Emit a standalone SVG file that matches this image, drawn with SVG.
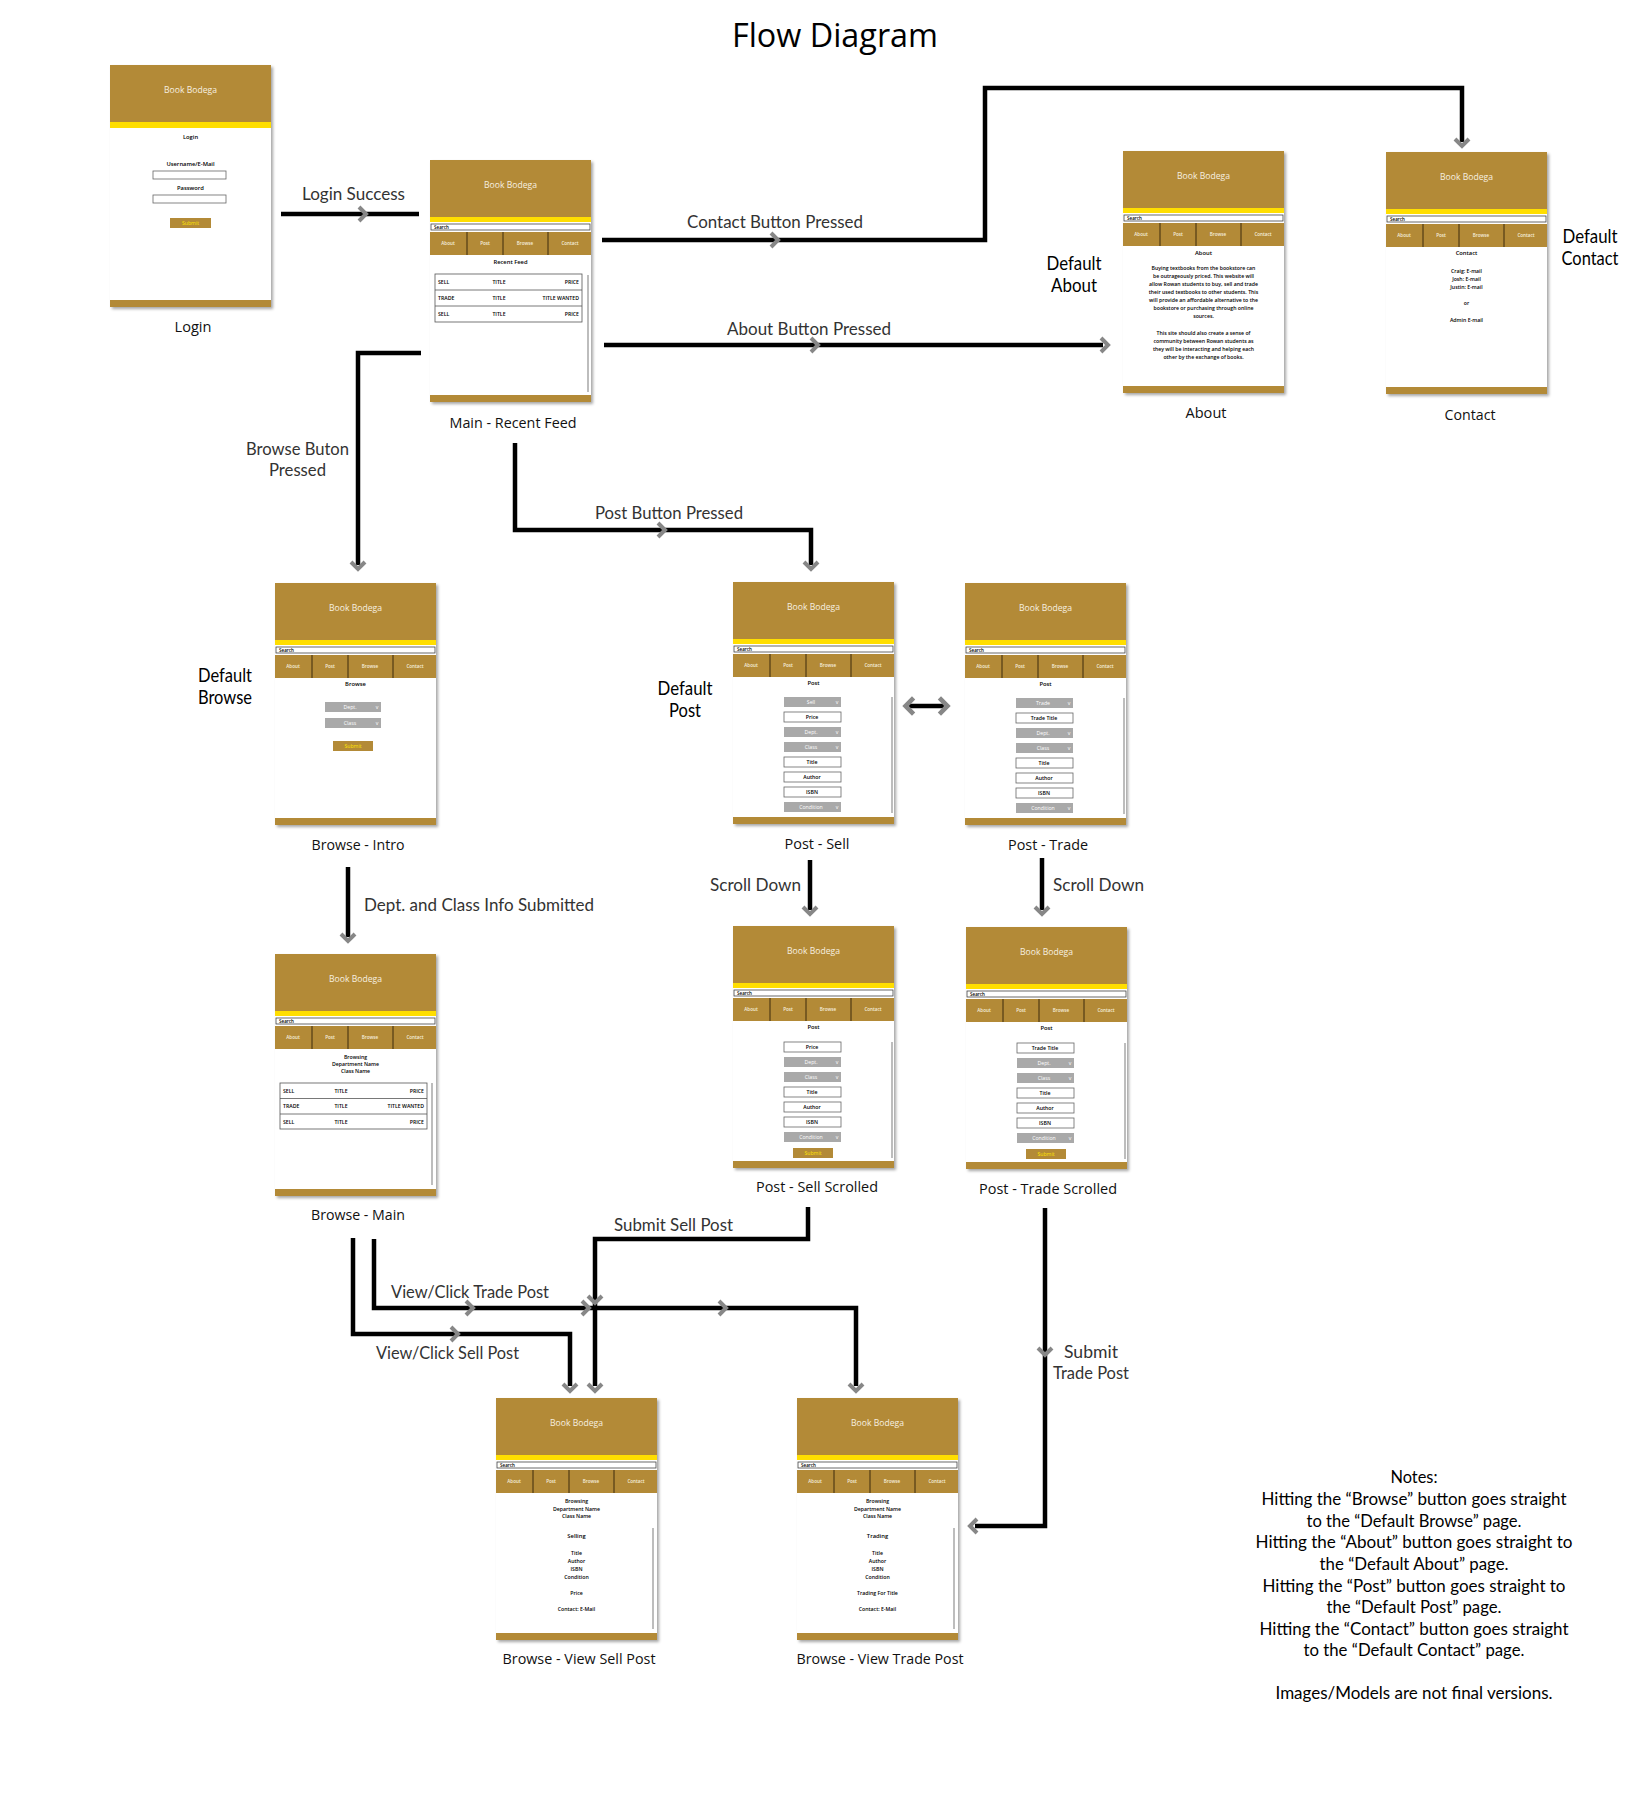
<svg xmlns="http://www.w3.org/2000/svg" xmlns:xlink="http://www.w3.org/1999/xlink" width="1641" height="1800" viewBox="0 0 1641 1800">
<defs>
<filter id="sh" x="-10%" y="-10%" width="130%" height="130%">
<feDropShadow dx="2" dy="2" stdDeviation="1.6" flood-color="#000" flood-opacity="0.35"/>
</filter>
<path id="cv" d="M-4,-7 L3,0 L-4,7" fill="none" stroke="#878787" stroke-width="4"/>
<style>
.body{fill:#fff;filter:url(#sh)}
.hd{fill:#B38A37}
.yl{fill:#FFDE00}
.sb{fill:#fff;stroke:#444;stroke-width:0.8}
.dv{stroke:#3d2a0c;stroke-width:1;fill:none}
.tbb{font-family:"Open Sans","Noto Sans",sans-serif;font-size:8.6px;fill:#f7f0e0;text-anchor:middle}
.tn{font-family:"Open Sans",sans-serif;font-size:4.6px;font-weight:600;fill:#f6efdf;text-anchor:middle}
.ts{font-family:"Open Sans",sans-serif;font-size:4.6px;font-weight:600;fill:#000}
.tc{font-family:"Open Sans",sans-serif;font-size:5.8px;font-weight:600;fill:#000;text-anchor:middle}
.tp{font-family:"Open Sans",sans-serif;font-size:5.2px;font-weight:600;fill:#000;text-anchor:middle}
.tl{font-family:"Open Sans",sans-serif;font-size:5.2px;font-weight:600;fill:#000}
.tr{font-family:"Open Sans",sans-serif;font-size:5.2px;font-weight:600;fill:#000;text-anchor:end}
.dd{fill:#A9A9A9}
.in{fill:#fff;stroke:#666;stroke-width:0.8}
.tdd{font-family:"Open Sans",sans-serif;font-size:5.2px;fill:#fff;text-anchor:middle}
.tbn{font-family:"Open Sans",sans-serif;font-size:5.2px;fill:#FFE400;text-anchor:middle}
.scr{stroke:#bdbdbd;stroke-width:2}
.tbl{fill:#fff;stroke:#555;stroke-width:0.8}
.rl{stroke:#555;stroke-width:0.8}
.ln{fill:none;stroke:#000;stroke-width:4.5;stroke-linejoin:miter}
.lbl{font-family:Lato,"Open Sans",sans-serif;font-size:18px;fill:#333}
.nl{font-family:"Open Sans","Noto Sans",sans-serif;font-size:15px;fill:#111;text-anchor:middle}
.dl{font-family:Lato,"Open Sans",sans-serif;font-size:19px;fill:#000;text-anchor:middle}
.nt{font-family:Lato,"Open Sans",sans-serif;font-size:18px;fill:#000;text-anchor:middle}
.ttl{font-family:"Open Sans","Noto Sans",sans-serif;font-size:32px;fill:#000;text-anchor:middle}
</style>
</defs>
<rect width="1641" height="1800" fill="#fff"/>
<text class="ttl" x="835" y="47" textLength="206" lengthAdjust="spacingAndGlyphs">Flow Diagram</text>

<!-- Login -->
<g id="login" transform="translate(110,65)">
<rect class="body" width="161" height="242"/>
<rect class="hd" width="161" height="57"/>
<text class="tbb" x="80.5" y="28">Book Bodega</text>
<rect class="yl" y="57" width="161" height="6"/>
<text class="tc" x="80.5" y="74">Login</text>
<text class="tc" x="80.5" y="101">Username/E-Mail</text>
<rect class="in" x="43" y="106" width="73" height="8"/>
<text class="tc" x="80.5" y="125">Password</text>
<rect class="in" x="43" y="130" width="73" height="8"/>
<rect class="hd" x="60" y="153" width="41" height="10"/>
<text class="tbn" x="80.5" y="160">Submit</text>
<rect class="hd" y="235" width="161" height="7"/>
</g>
<text class="nl" x="193" y="332" textLength="37" lengthAdjust="spacingAndGlyphs">Login</text>

<!-- Main - Recent Feed -->
<g id="main" transform="translate(430,160)">
<rect class="body" width="161" height="242"/>
<rect class="hd" width="161" height="57"/>
<text class="tbb" x="80.5" y="28">Book Bodega</text>
<rect class="yl" y="57" width="161" height="5"/>
<rect class="sb" x="1" y="64" width="159" height="6"/>
<text class="ts" x="4" y="69">Search</text>
<rect class="hd" y="72" width="161" height="23"/>
<path class="dv" d="M37,72V95M73,72V95M118,72V95"/>
<text class="tn" x="18" y="85">About</text>
<text class="tn" x="55" y="85">Post</text>
<text class="tn" x="95" y="85">Browse</text>
<text class="tn" x="140" y="85">Contact</text>
<text class="tc" x="80.5" y="104">Recent Feed</text>
<rect class="tbl" x="5" y="114" width="147" height="48"/>
<path class="rl" d="M5,130H152M5,146H152"/>
<text class="tl" x="8" y="124">SELL</text><text class="tp" x="69" y="124">TITLE</text><text class="tr" x="149" y="124">PRICE</text>
<text class="tl" x="8" y="140">TRADE</text><text class="tp" x="69" y="140">TITLE</text><text class="tr" x="149" y="140">TITLE WANTED</text>
<text class="tl" x="8" y="156">SELL</text><text class="tp" x="69" y="156">TITLE</text><text class="tr" x="149" y="156">PRICE</text>
<line class="scr" x1="158" y1="115" x2="158" y2="232"/>
<rect class="hd" y="235" width="161" height="7"/>
</g>
<text class="nl" x="513" y="428" textLength="127" lengthAdjust="spacingAndGlyphs">Main - Recent Feed</text>

<!-- About -->
<g id="about" transform="translate(1123,151)">
<rect class="body" width="161" height="242"/>
<rect class="hd" width="161" height="57"/>
<text class="tbb" x="80.5" y="28">Book Bodega</text>
<rect class="yl" y="57" width="161" height="5"/>
<rect class="sb" x="1" y="64" width="159" height="6"/>
<text class="ts" x="4" y="69">Search</text>
<rect class="hd" y="72" width="161" height="23"/>
<path class="dv" d="M37,72V95M73,72V95M118,72V95"/>
<text class="tn" x="18" y="85">About</text>
<text class="tn" x="55" y="85">Post</text>
<text class="tn" x="95" y="85">Browse</text>
<text class="tn" x="140" y="85">Contact</text>
<text class="tc" x="80.5" y="104">About</text>
<text class="tp" x="80.5" y="119">Buying textbooks from the bookstore can</text>
<text class="tp" x="80.5" y="127">be outrageously priced. This website will</text>
<text class="tp" x="80.5" y="135">allow Rowan students to buy, sell and trade</text>
<text class="tp" x="80.5" y="143">their used textbooks to other students. This</text>
<text class="tp" x="80.5" y="151">will provide an affordable alternative to the</text>
<text class="tp" x="80.5" y="159">bookstore or purchasing through online</text>
<text class="tp" x="80.5" y="167">sources.</text>
<text class="tp" x="80.5" y="184">This site should also create a sense of</text>
<text class="tp" x="80.5" y="192">community between Rowan students as</text>
<text class="tp" x="80.5" y="200">they will be interacting and helping each</text>
<text class="tp" x="80.5" y="208">other by the exchange of books.</text>
<rect class="hd" y="235" width="161" height="7"/>
</g>
<text class="nl" x="1206" y="418" textLength="41" lengthAdjust="spacingAndGlyphs">About</text>
<text class="dl" x="1074" y="270" textLength="55" lengthAdjust="spacingAndGlyphs">Default</text>
<text class="dl" x="1074" y="292" textLength="46" lengthAdjust="spacingAndGlyphs">About</text>

<!-- Contact -->
<g id="contact" transform="translate(1386,152)">
<rect class="body" width="161" height="242"/>
<rect class="hd" width="161" height="57"/>
<text class="tbb" x="80.5" y="28">Book Bodega</text>
<rect class="yl" y="57" width="161" height="5"/>
<rect class="sb" x="1" y="64" width="159" height="6"/>
<text class="ts" x="4" y="69">Search</text>
<rect class="hd" y="72" width="161" height="23"/>
<path class="dv" d="M37,72V95M73,72V95M118,72V95"/>
<text class="tn" x="18" y="85">About</text>
<text class="tn" x="55" y="85">Post</text>
<text class="tn" x="95" y="85">Browse</text>
<text class="tn" x="140" y="85">Contact</text>
<text class="tc" x="80.5" y="103">Contact</text>
<text class="tp" x="80.5" y="121">Craig: E-mail</text>
<text class="tp" x="80.5" y="129">Josh: E-mail</text>
<text class="tp" x="80.5" y="137">Justin: E-mail</text>
<text class="tp" x="80.5" y="153">or</text>
<text class="tp" x="80.5" y="170">Admin E-mail</text>
<rect class="hd" y="235" width="161" height="7"/>
</g>
<text class="nl" x="1470" y="420" textLength="51" lengthAdjust="spacingAndGlyphs">Contact</text>
<text class="dl" x="1590" y="243" textLength="55" lengthAdjust="spacingAndGlyphs">Default</text>
<text class="dl" x="1590" y="265" textLength="57" lengthAdjust="spacingAndGlyphs">Contact</text>

<!-- Browse - Intro -->
<g id="browse-intro" transform="translate(275,583)">
<rect class="body" width="161" height="242"/>
<rect class="hd" width="161" height="57"/>
<text class="tbb" x="80.5" y="28">Book Bodega</text>
<rect class="yl" y="57" width="161" height="5"/>
<rect class="sb" x="1" y="64" width="159" height="6"/>
<text class="ts" x="4" y="69">Search</text>
<rect class="hd" y="72" width="161" height="23"/>
<path class="dv" d="M37,72V95M73,72V95M118,72V95"/>
<text class="tn" x="18" y="85">About</text>
<text class="tn" x="55" y="85">Post</text>
<text class="tn" x="95" y="85">Browse</text>
<text class="tn" x="140" y="85">Contact</text>
<text class="tc" x="80.5" y="103">Browse</text>
<rect class="dd" x="50" y="119" width="56" height="10"/>
<text class="tdd" x="75" y="126">Dept.</text><text class="tdd" x="102" y="126">v</text>
<rect class="dd" x="50" y="135" width="56" height="10"/>
<text class="tdd" x="75" y="142">Class</text><text class="tdd" x="102" y="142">v</text>
<rect class="hd" x="58" y="158" width="40" height="10"/>
<text class="tbn" x="78" y="165">Submit</text>
<rect class="hd" y="235" width="161" height="7"/>
</g>
<text class="nl" x="358" y="850" textLength="93" lengthAdjust="spacingAndGlyphs">Browse - Intro</text>
<text class="dl" x="225" y="682" textLength="54" lengthAdjust="spacingAndGlyphs">Default</text>
<text class="dl" x="225" y="704" textLength="54" lengthAdjust="spacingAndGlyphs">Browse</text>

<!-- Post - Sell -->
<g id="post-sell" transform="translate(733,582)">
<rect class="body" width="161" height="242"/>
<rect class="hd" width="161" height="57"/>
<text class="tbb" x="80.5" y="28">Book Bodega</text>
<rect class="yl" y="57" width="161" height="5"/>
<rect class="sb" x="1" y="64" width="159" height="6"/>
<text class="ts" x="4" y="69">Search</text>
<rect class="hd" y="72" width="161" height="23"/>
<path class="dv" d="M37,72V95M73,72V95M118,72V95"/>
<text class="tn" x="18" y="85">About</text>
<text class="tn" x="55" y="85">Post</text>
<text class="tn" x="95" y="85">Browse</text>
<text class="tn" x="140" y="85">Contact</text>
<text class="tc" x="80.5" y="103">Post</text>
<rect class="dd" x="51" y="115" width="57" height="10"/><text class="tdd" x="78" y="122">Sell</text><text class="tdd" x="104" y="122">v</text>
<rect class="in" x="51" y="130" width="57" height="10"/><text class="tp" x="79" y="137">Price</text>
<rect class="dd" x="51" y="145" width="57" height="10"/><text class="tdd" x="78" y="152">Dept.</text><text class="tdd" x="104" y="152">v</text>
<rect class="dd" x="51" y="160" width="57" height="10"/><text class="tdd" x="78" y="167">Class</text><text class="tdd" x="104" y="167">v</text>
<rect class="in" x="51" y="175" width="57" height="10"/><text class="tp" x="79" y="182">Title</text>
<rect class="in" x="51" y="190" width="57" height="10"/><text class="tp" x="79" y="197">Author</text>
<rect class="in" x="51" y="205" width="57" height="10"/><text class="tp" x="79" y="212">ISBN</text>
<rect class="dd" x="51" y="220" width="57" height="10"/><text class="tdd" x="78" y="227">Condition</text><text class="tdd" x="104" y="227">v</text>
<line class="scr" x1="159" y1="115" x2="159" y2="231"/>
<rect class="hd" y="235" width="161" height="7"/>
</g>
<text class="nl" x="817" y="849" textLength="65" lengthAdjust="spacingAndGlyphs">Post - Sell</text>
<text class="dl" x="685" y="695" textLength="55" lengthAdjust="spacingAndGlyphs">Default</text>
<text class="dl" x="685" y="717" textLength="32" lengthAdjust="spacingAndGlyphs">Post</text>

<!-- Post - Trade -->
<g id="post-trade" transform="translate(965,583)">
<rect class="body" width="161" height="242"/>
<rect class="hd" width="161" height="57"/>
<text class="tbb" x="80.5" y="28">Book Bodega</text>
<rect class="yl" y="57" width="161" height="5"/>
<rect class="sb" x="1" y="64" width="159" height="6"/>
<text class="ts" x="4" y="69">Search</text>
<rect class="hd" y="72" width="161" height="23"/>
<path class="dv" d="M37,72V95M73,72V95M118,72V95"/>
<text class="tn" x="18" y="85">About</text>
<text class="tn" x="55" y="85">Post</text>
<text class="tn" x="95" y="85">Browse</text>
<text class="tn" x="140" y="85">Contact</text>
<text class="tc" x="80.5" y="103">Post</text>
<rect class="dd" x="51" y="115" width="57" height="10"/><text class="tdd" x="78" y="122">Trade</text><text class="tdd" x="104" y="122">v</text>
<rect class="in" x="51" y="130" width="57" height="10"/><text class="tp" x="79" y="137">Trade Title</text>
<rect class="dd" x="51" y="145" width="57" height="10"/><text class="tdd" x="78" y="152">Dept.</text><text class="tdd" x="104" y="152">v</text>
<rect class="dd" x="51" y="160" width="57" height="10"/><text class="tdd" x="78" y="167">Class</text><text class="tdd" x="104" y="167">v</text>
<rect class="in" x="51" y="175" width="57" height="10"/><text class="tp" x="79" y="182">Title</text>
<rect class="in" x="51" y="190" width="57" height="10"/><text class="tp" x="79" y="197">Author</text>
<rect class="in" x="51" y="205" width="57" height="10"/><text class="tp" x="79" y="212">ISBN</text>
<rect class="dd" x="51" y="220" width="57" height="10"/><text class="tdd" x="78" y="227">Condition</text><text class="tdd" x="104" y="227">v</text>
<line class="scr" x1="159" y1="115" x2="159" y2="231"/>
<rect class="hd" y="235" width="161" height="7"/>
</g>
<text class="nl" x="1048" y="850" textLength="80" lengthAdjust="spacingAndGlyphs">Post - Trade</text>

<!-- Browse - Main -->
<g id="browse-main" transform="translate(275,954)">
<rect class="body" width="161" height="242"/>
<rect class="hd" width="161" height="57"/>
<text class="tbb" x="80.5" y="28">Book Bodega</text>
<rect class="yl" y="57" width="161" height="5"/>
<rect class="sb" x="1" y="64" width="159" height="6"/>
<text class="ts" x="4" y="69">Search</text>
<rect class="hd" y="72" width="161" height="23"/>
<path class="dv" d="M37,72V95M73,72V95M118,72V95"/>
<text class="tn" x="18" y="85">About</text>
<text class="tn" x="55" y="85">Post</text>
<text class="tn" x="95" y="85">Browse</text>
<text class="tn" x="140" y="85">Contact</text>
<text class="tp" x="80.5" y="105">Browsing</text>
<text class="tp" x="80.5" y="112">Department Name</text>
<text class="tp" x="80.5" y="119">Class Name</text>
<rect class="tbl" x="5" y="129" width="147" height="46"/>
<path class="rl" d="M5,144.5H152M5,160H152"/>
<text class="tl" x="8" y="138.5">SELL</text><text class="tp" x="66" y="138.5">TITLE</text><text class="tr" x="149" y="138.5">PRICE</text>
<text class="tl" x="8" y="154">TRADE</text><text class="tp" x="66" y="154">TITLE</text><text class="tr" x="149" y="154">TITLE WANTED</text>
<text class="tl" x="8" y="170">SELL</text><text class="tp" x="66" y="170">TITLE</text><text class="tr" x="149" y="170">PRICE</text>
<line class="scr" x1="157" y1="129" x2="157" y2="231"/>
<rect class="hd" y="235" width="161" height="7"/>
</g>
<text class="nl" x="358" y="1220" textLength="94" lengthAdjust="spacingAndGlyphs">Browse - Main</text>

<!-- Post - Sell Scrolled -->
<g id="post-sell-scrolled" transform="translate(733,926)">
<rect class="body" width="161" height="242"/>
<rect class="hd" width="161" height="57"/>
<text class="tbb" x="80.5" y="28">Book Bodega</text>
<rect class="yl" y="57" width="161" height="5"/>
<rect class="sb" x="1" y="64" width="159" height="6"/>
<text class="ts" x="4" y="69">Search</text>
<rect class="hd" y="72" width="161" height="23"/>
<path class="dv" d="M37,72V95M73,72V95M118,72V95"/>
<text class="tn" x="18" y="85">About</text>
<text class="tn" x="55" y="85">Post</text>
<text class="tn" x="95" y="85">Browse</text>
<text class="tn" x="140" y="85">Contact</text>
<text class="tc" x="80.5" y="103">Post</text>
<rect class="in" x="51" y="116" width="57" height="10"/><text class="tp" x="79" y="123">Price</text>
<rect class="dd" x="51" y="131" width="57" height="10"/><text class="tdd" x="78" y="138">Dept.</text><text class="tdd" x="104" y="138">v</text>
<rect class="dd" x="51" y="146" width="57" height="10"/><text class="tdd" x="78" y="153">Class</text><text class="tdd" x="104" y="153">v</text>
<rect class="in" x="51" y="161" width="57" height="10"/><text class="tp" x="79" y="168">Title</text>
<rect class="in" x="51" y="176" width="57" height="10"/><text class="tp" x="79" y="183">Author</text>
<rect class="in" x="51" y="191" width="57" height="10"/><text class="tp" x="79" y="198">ISBN</text>
<rect class="dd" x="51" y="206" width="57" height="10"/><text class="tdd" x="78" y="213">Condition</text><text class="tdd" x="104" y="213">v</text>
<rect class="hd" x="60" y="222" width="40" height="10"/><text class="tbn" x="80" y="229">Submit</text>
<line class="scr" x1="159" y1="116" x2="159" y2="232"/>
<rect class="hd" y="235" width="161" height="7"/>
</g>
<text class="nl" x="817" y="1192" textLength="122" lengthAdjust="spacingAndGlyphs">Post - Sell Scrolled</text>

<!-- Post - Trade Scrolled -->
<g id="post-trade-scrolled" transform="translate(966,927)">
<rect class="body" width="161" height="242"/>
<rect class="hd" width="161" height="57"/>
<text class="tbb" x="80.5" y="28">Book Bodega</text>
<rect class="yl" y="57" width="161" height="5"/>
<rect class="sb" x="1" y="64" width="159" height="6"/>
<text class="ts" x="4" y="69">Search</text>
<rect class="hd" y="72" width="161" height="23"/>
<path class="dv" d="M37,72V95M73,72V95M118,72V95"/>
<text class="tn" x="18" y="85">About</text>
<text class="tn" x="55" y="85">Post</text>
<text class="tn" x="95" y="85">Browse</text>
<text class="tn" x="140" y="85">Contact</text>
<text class="tc" x="80.5" y="103">Post</text>
<rect class="in" x="51" y="116" width="57" height="10"/><text class="tp" x="79" y="123">Trade Title</text>
<rect class="dd" x="51" y="131" width="57" height="10"/><text class="tdd" x="78" y="138">Dept.</text><text class="tdd" x="104" y="138">v</text>
<rect class="dd" x="51" y="146" width="57" height="10"/><text class="tdd" x="78" y="153">Class</text><text class="tdd" x="104" y="153">v</text>
<rect class="in" x="51" y="161" width="57" height="10"/><text class="tp" x="79" y="168">Title</text>
<rect class="in" x="51" y="176" width="57" height="10"/><text class="tp" x="79" y="183">Author</text>
<rect class="in" x="51" y="191" width="57" height="10"/><text class="tp" x="79" y="198">ISBN</text>
<rect class="dd" x="51" y="206" width="57" height="10"/><text class="tdd" x="78" y="213">Condition</text><text class="tdd" x="104" y="213">v</text>
<rect class="hd" x="60" y="222" width="40" height="10"/><text class="tbn" x="80" y="229">Submit</text>
<line class="scr" x1="159" y1="116" x2="159" y2="232"/>
<rect class="hd" y="235" width="161" height="7"/>
</g>
<text class="nl" x="1048" y="1194" textLength="138" lengthAdjust="spacingAndGlyphs">Post - Trade Scrolled</text>

<!-- Browse - View Sell Post -->
<g id="view-sell" transform="translate(496,1398)">
<rect class="body" width="161" height="242"/>
<rect class="hd" width="161" height="57"/>
<text class="tbb" x="80.5" y="28">Book Bodega</text>
<rect class="yl" y="57" width="161" height="5"/>
<rect class="sb" x="1" y="64" width="159" height="6"/>
<text class="ts" x="4" y="69">Search</text>
<rect class="hd" y="72" width="161" height="23"/>
<path class="dv" d="M37,72V95M73,72V95M118,72V95"/>
<text class="tn" x="18" y="85">About</text>
<text class="tn" x="55" y="85">Post</text>
<text class="tn" x="95" y="85">Browse</text>
<text class="tn" x="140" y="85">Contact</text>
<text class="tp" x="80.5" y="105">Browsing</text>
<text class="tp" x="80.5" y="113">Department Name</text>
<text class="tp" x="80.5" y="120">Class Name</text>
<text class="tc" x="80.5" y="140">Selling</text>
<text class="tp" x="80.5" y="157">Title</text>
<text class="tp" x="80.5" y="165">Author</text>
<text class="tp" x="80.5" y="173">ISBN</text>
<text class="tp" x="80.5" y="181">Condition</text>
<text class="tp" x="80.5" y="197">Price</text>
<text class="tp" x="80.5" y="213">Contact: E-Mail</text>
<line class="scr" x1="157" y1="130" x2="157" y2="231"/>
<rect class="hd" y="235" width="161" height="7"/>
</g>
<text class="nl" x="579" y="1664" textLength="153" lengthAdjust="spacingAndGlyphs">Browse - View Sell Post</text>

<!-- Browse - View Trade Post -->
<g id="view-trade" transform="translate(797,1398)">
<rect class="body" width="161" height="242"/>
<rect class="hd" width="161" height="57"/>
<text class="tbb" x="80.5" y="28">Book Bodega</text>
<rect class="yl" y="57" width="161" height="5"/>
<rect class="sb" x="1" y="64" width="159" height="6"/>
<text class="ts" x="4" y="69">Search</text>
<rect class="hd" y="72" width="161" height="23"/>
<path class="dv" d="M37,72V95M73,72V95M118,72V95"/>
<text class="tn" x="18" y="85">About</text>
<text class="tn" x="55" y="85">Post</text>
<text class="tn" x="95" y="85">Browse</text>
<text class="tn" x="140" y="85">Contact</text>
<text class="tp" x="80.5" y="105">Browsing</text>
<text class="tp" x="80.5" y="113">Department Name</text>
<text class="tp" x="80.5" y="120">Class Name</text>
<text class="tc" x="80.5" y="140">Trading</text>
<text class="tp" x="80.5" y="157">Title</text>
<text class="tp" x="80.5" y="165">Author</text>
<text class="tp" x="80.5" y="173">ISBN</text>
<text class="tp" x="80.5" y="181">Condition</text>
<text class="tp" x="80.5" y="197">Trading For Title</text>
<text class="tp" x="80.5" y="213">Contact: E-Mail</text>
<line class="scr" x1="157" y1="130" x2="157" y2="231"/>
<rect class="hd" y="235" width="161" height="7"/>
</g>
<text class="nl" x="880" y="1664" textLength="167" lengthAdjust="spacingAndGlyphs">Browse - View Trade Post</text>

<!-- Connectors -->
<g id="connectors">
<path class="ln" d="M281,214H419"/>
<path class="ln" d="M602,240H985V88H1462V142"/>
<path class="ln" d="M604,345H1103"/>
<path class="ln" d="M421,353H358V565"/>
<path class="ln" d="M515,443V530H811V565"/>
<path class="ln" d="M909,706H944"/>
<path class="ln" d="M348,867V937"/>
<path class="ln" d="M810,860V910"/>
<path class="ln" d="M1042,858V910"/>
<path class="ln" d="M808,1207V1239H595V1386"/>
<path class="ln" d="M374,1239V1308H856V1386"/>
<path class="ln" d="M353,1238V1334H570V1386"/>
<path class="ln" d="M1045,1208V1526H975"/>
<use href="#cv" xlink:href="#cv" transform="translate(363,214)"/>
<use href="#cv" xlink:href="#cv" transform="translate(775,240)"/>
<use href="#cv" xlink:href="#cv" transform="translate(1462,143) rotate(90)"/>
<use href="#cv" xlink:href="#cv" transform="translate(815,345)"/>
<use href="#cv" xlink:href="#cv" transform="translate(1105,345)"/>
<use href="#cv" xlink:href="#cv" transform="translate(358,566) rotate(90)"/>
<use href="#cv" xlink:href="#cv" transform="translate(662,530)"/>
<use href="#cv" xlink:href="#cv" transform="translate(811,566) rotate(90)"/>
<use href="#cv" xlink:href="#cv" transform="translate(944,706) scale(1.15)"/>
<use href="#cv" xlink:href="#cv" transform="translate(909,706) rotate(180) scale(1.15)"/>
<use href="#cv" xlink:href="#cv" transform="translate(348,938) rotate(90)"/>
<use href="#cv" xlink:href="#cv" transform="translate(810,911) rotate(90)"/>
<use href="#cv" xlink:href="#cv" transform="translate(1042,911) rotate(90)"/>
<use href="#cv" xlink:href="#cv" transform="translate(595,1300) rotate(90)"/>
<use href="#cv" xlink:href="#cv" transform="translate(595,1388) rotate(90)"/>
<use href="#cv" xlink:href="#cv" transform="translate(570,1388) rotate(90)"/>
<use href="#cv" xlink:href="#cv" transform="translate(856,1388) rotate(90)"/>
<use href="#cv" xlink:href="#cv" transform="translate(470,1308)"/>
<use href="#cv" xlink:href="#cv" transform="translate(586,1308)"/>
<use href="#cv" xlink:href="#cv" transform="translate(723,1308)"/>
<use href="#cv" xlink:href="#cv" transform="translate(455,1334)"/>
<use href="#cv" xlink:href="#cv" transform="translate(1045,1352) rotate(90)"/>
<use href="#cv" xlink:href="#cv" transform="translate(973,1526) rotate(180)"/>
</g>

<!-- Connector labels -->
<g id="edge-labels">
<text class="lbl" x="302" y="200" textLength="103" lengthAdjust="spacingAndGlyphs">Login Success</text>
<text class="lbl" x="687" y="228" textLength="176" lengthAdjust="spacingAndGlyphs">Contact Button Pressed</text>
<text class="lbl" x="727" y="335" textLength="164" lengthAdjust="spacingAndGlyphs">About Button Pressed</text>
<text class="lbl" x="246" y="455" textLength="103" lengthAdjust="spacingAndGlyphs">Browse Buton</text>
<text class="lbl" x="269" y="476" textLength="57" lengthAdjust="spacingAndGlyphs">Pressed</text>
<text class="lbl" x="595" y="519" textLength="148" lengthAdjust="spacingAndGlyphs">Post Button Pressed</text>
<text class="lbl" x="364" y="911" textLength="230" lengthAdjust="spacingAndGlyphs">Dept. and Class Info Submitted</text>
<text class="lbl" x="710" y="891" textLength="91" lengthAdjust="spacingAndGlyphs">Scroll Down</text>
<text class="lbl" x="1053" y="891" textLength="91" lengthAdjust="spacingAndGlyphs">Scroll Down</text>
<text class="lbl" x="614" y="1231" textLength="119" lengthAdjust="spacingAndGlyphs">Submit Sell Post</text>
<text class="lbl" x="391" y="1298" textLength="158" lengthAdjust="spacingAndGlyphs">View/Click Trade Post</text>
<text class="lbl" x="376" y="1359" textLength="143" lengthAdjust="spacingAndGlyphs">View/Click Sell Post</text>
<text class="lbl" x="1064" y="1358" textLength="54" lengthAdjust="spacingAndGlyphs">Submit</text>
<text class="lbl" x="1053" y="1379" textLength="76" lengthAdjust="spacingAndGlyphs">Trade Post</text>
</g>

<!-- Notes -->
<g id="notes">
<text class="nt" x="1414" y="1483" textLength="47" lengthAdjust="spacingAndGlyphs">Notes:</text>
<text class="nt" x="1414" y="1505" textLength="305" lengthAdjust="spacingAndGlyphs">Hitting the “Browse” button goes straight</text>
<text class="nt" x="1414" y="1527" textLength="215" lengthAdjust="spacingAndGlyphs">to the “Default Browse” page.</text>
<text class="nt" x="1414" y="1548" textLength="317" lengthAdjust="spacingAndGlyphs">Hitting the “About” button goes straight to</text>
<text class="nt" x="1414" y="1570" textLength="189" lengthAdjust="spacingAndGlyphs">the “Default About” page.</text>
<text class="nt" x="1414" y="1592" textLength="303" lengthAdjust="spacingAndGlyphs">Hitting the “Post” button goes straight to</text>
<text class="nt" x="1414" y="1613" textLength="175" lengthAdjust="spacingAndGlyphs">the “Default Post” page.</text>
<text class="nt" x="1414" y="1635" textLength="309" lengthAdjust="spacingAndGlyphs">Hitting the “Contact” button goes straight</text>
<text class="nt" x="1414" y="1656" textLength="221" lengthAdjust="spacingAndGlyphs">to the “Default Contact” page.</text>
<text class="nt" x="1414" y="1699" textLength="277" lengthAdjust="spacingAndGlyphs">Images/Models are not final versions.</text>
</g>
</svg>
